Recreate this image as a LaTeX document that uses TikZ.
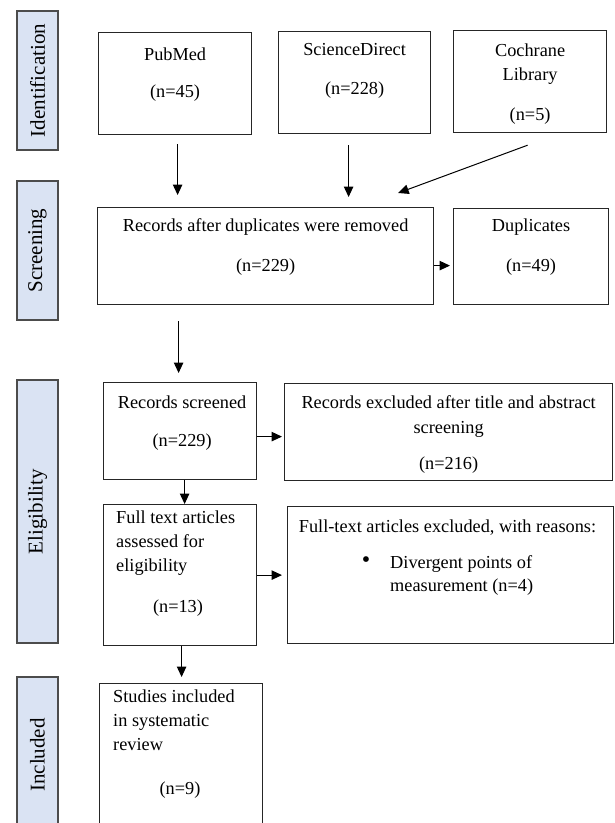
\documentclass[tikz,border=0pt]{standalone}
\usepackage{fontspec}
\setmainfont{Liberation Serif}
\usetikzlibrary{arrows.meta}
\usetikzlibrary{calc}
\usetikzlibrary{positioning}
\usepackage{xcolor}
\definecolor{phaseblue}{HTML}{DAE3F3}

\tikzset{
  box/.style={draw=black!85, line width=1.2pt, rectangle, inner sep=0pt, anchor=north west},
  phase/.style={draw=black!70, line width=1.2pt, fill=phaseblue, rotate=90, inner sep=0pt,
    font=\fontsize{21}{24}\selectfont},
  txt/.style={inner sep=0pt, align=center, font=\fontsize{18.3}{24}\selectfont},
  arr/.style={-{Triangle[width=9.5pt,length=10.5pt]}, line width=1pt},
}

\begin{document}
\begin{tikzpicture}[x=1pt, y=-1pt]
    \useasboundingbox (0,0) rectangle (615,823);
    \clip (0,0) rectangle (615,823);

    % 1. Phase bars on the left
    \node[phase, minimum width=139pt, minimum height=41pt] (ident) at (37.5,80.5) {Identification};
    \node[phase, minimum width=139pt, minimum height=41pt] (screen) at (37.5,250.5) {Screening};
    \node[phase, minimum width=263pt, minimum height=41pt] (elig) at (37.5,511.5) {Eligibility};
    \node[phase, minimum width=156pt, minimum height=41pt] (incl) at (37.5,755) {Included};

    % 2. Boxes
    \node[box, minimum width=153pt, minimum height=102pt] (pubmed) at (98,32) {};
    \node[box, minimum width=152pt, minimum height=102pt] (sd) at (278,31) {};
    \node[box, minimum width=153pt, minimum height=102pt] (cochrane) at (453,30) {};
    \node[box, minimum width=336pt, minimum height=97pt] (recdup) at (97,207) {};
    \node[box, minimum width=155pt, minimum height=96pt] (dup) at (453,208) {};
    \node[box, minimum width=153pt, minimum height=97pt] (screened) at (103,382) {};
    \node[box, minimum width=328pt, minimum height=97pt] (excluded) at (284,383) {};
    \node[box, minimum width=153pt, minimum height=141pt] (fulltext) at (103,504) {};
    \node[box, minimum width=326pt, minimum height=137pt] (ftexcl) at (287,506) {};
    \node[box, minimum width=163pt, minimum height=150pt] (studies) at (99,683) {};

    % 3. Texts in the boxes
    \node[txt, below=16pt of pubmed.north] (pubmedtxt) {PubMed\\[13pt](n=45)};
    \node[txt, below=12.5pt of sd.north] (sdtxt) {ScienceDirect\\[15pt](n=228)};
    \node[txt, below=14pt of cochrane.north] (cochranetxt) {Cochrane\\Library\\[16pt](n=5)};
    \node[txt, below=11.5pt of recdup.north] (recduptxt) {Records after duplicates were removed\\[16pt](n=229)};
    \node[txt, below=11pt of dup.north] (duptxt) {Duplicates\\[16pt](n=49)};
    \node[txt, below=13.5pt of screened.north, xshift=2pt] (screenedtxt) {Records screened\\[14pt](n=229)};
    \node[txt, below=12.5pt of excluded.north] (excludedtxt) {Records excluded after title and abstract\\[1pt]screening\\[12pt](n=216)};
    \node[txt, align=left, anchor=north west] (fulltexttxt) at (116,510.5) {Full text articles\\assessed for\\eligibility};
    \node[txt] (fulltextn) at (178,608) {(n=13)};
    \node[txt] (ftexcltxt) at (447.5,528) {Full-text articles excluded, with reasons:};
    \node[txt, font=\fontsize{24}{24}\selectfont] (bullet) at (366,562) {\textbullet};
    \node[txt, align=left, anchor=north west] (reason) at (390,555.7) {Divergent points of\\[-1pt]measurement (n=4)};
    \node[txt, align=left, anchor=north west] (studiestxt) at (113,689.5) {Studies included\\in systematic\\review};
    \node[txt] (studiesn) at (180,790) {(n=9)};

    % 4. Arrows
    \draw[arr, shorten <=9pt, shorten >=12pt] ($(pubmed.south)+(2.5,0)$) -- ($(pubmed.south |- recdup.north)+(2.5,0)$);
    \draw[arr, shorten <=11pt, shorten >=10pt] ($(sd.south)+(-6,0)$) -- ($(sd.south |- recdup.north)+(-6,0)$);
    \draw[arr] ($(cochrane.south)+(-2.5,12)$) -- ($(recdup.north east)+(-36,-14)$);
    \draw[arr, shorten >=3pt] ($(recdup.east)+(0,9.5)$) -- ($(dup.west |- recdup.east)+(0,9.5)$);
    \draw[arr, shorten <=16pt, shorten >=9pt] ($(screened.north |- recdup.south)+(-1.5,0)$) -- ($(screened.north)+(-1.5,0)$);
    \draw[arr, shorten >=2pt] ($(screened.east)+(0,5.5)$) -- ($(excluded.west |- screened.east)+(0,5.5)$);
    \draw[arr] ($(screened.south)+(4.5,0)$) -- ($(screened.south |- fulltext.north)+(4.5,0)$);
    \draw[arr, shorten >=5pt] (fulltext.east) -- (ftexcl.west |- fulltext.east);
    \draw[arr, shorten >=6pt] ($(fulltext.south)+(1.5,0)$) -- ($(fulltext.south |- studies.north)+(1.5,0)$);
\end{tikzpicture}
\end{document}
